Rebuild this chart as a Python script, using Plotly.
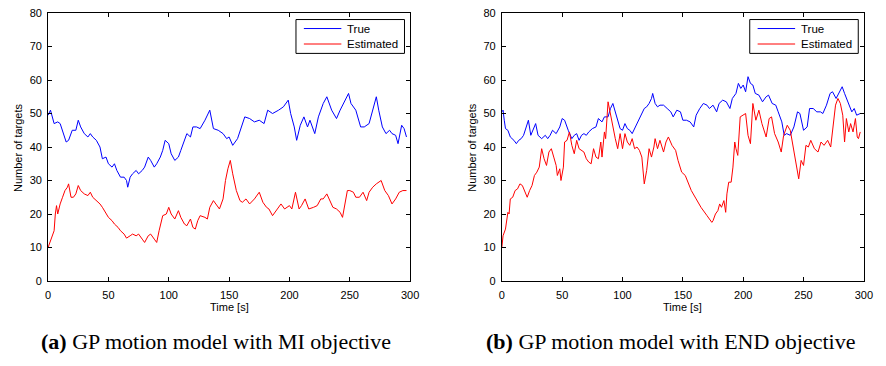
import plotly.graph_objects as go

# ---------- data ----------
a_true_t = [0,2,5,8,10,12,14,15,17,20,23,25,27,30,33,35,37,40,43,45,48,50,53,55,57,60,63,65,66,68,70,73,75,78,80,83,85,88,90,93,95,97,100,102,105,108,110,113,115,118,120,123,126,130,134,137,141,145,148,150,153,157,160,163,167,171,175,179,182,186,191,195,199,201,204,206,209,212,215,217,221,224,228,231,235,239,242,246,249,251,255,259,262,266,269,272,274,277,280,283,285,288,290,293,295,297]
a_true_v = [49.5,51,47,47.5,47,45,43,41.5,42,45,45,48,46,44,43,44,43,42,40,36.5,37,35,34,35,33,31,31,30,28,31,32,33,32,33,34,37,36,34,35,37,39,42,41,38,36,37,39,42,44,43,46,46,45.5,48,51,45.5,45,44,42.5,43,40.5,42.5,46,49,48.5,47.5,48,47,51,50,51,52,54,50,46,42,46.5,49,46,48,44,49,53,55,51,48.5,51,54,56,53,51,46,46,47,51,55,51,46,44,45,44,43.5,41,46.5,45.5,43]

a_est_t = [0,1,3,5,6,7,8,10,12,14,16,17,19,21,23,25,27,30,33,35,37,40,43,45,48,50,53,55,58,60,63,65,68,70,73,75,78,80,83,85,88,90,92,95,98,100,102,105,108,110,113,115,118,120,122,124,126,130,132,134,137,140,142,145,147,149,151,153,156,159,161,164,167,171,175,178,181,183,186,190,193,196,200,202,205,208,210,213,216,220,223,226,228,231,234,236,239,242,244,246,248,250,253,255,258,261,264,266,269,272,274,276,279,282,285,288,291,294,297]
a_est_v = [10,11,13.5,15,20,22.5,20,23,25,27,28,29,25,25,26,28.5,27,26,25.5,26.5,25,24,23,22,20,19,18,17,16,15,14,12.8,13.5,14,13.5,14,12.5,11.5,13.5,14,12.5,11.5,15,19.5,20,22,20,18.5,21,19,17,16.5,18.5,16,15.5,18,19.5,19,18.5,22,24,22.5,21.5,24.5,30,33.5,36,32,27,24,23.5,24.5,23,24.5,26.5,23.5,22,21.5,19.5,21.5,23,21.5,22.5,21.5,26.5,21.5,22.5,24.5,21.5,22,22.5,24.5,24.5,26,23.5,22,21.5,20.5,19,23.5,27,27,26.5,25,25,26.5,24,26.5,28,29,29.5,30,27,25.5,23,24.5,26.5,27,27]

b_true_t = [0,1,2,3,5,7,10,12,14,16,18,20,22,24,26,28,30,33,36,38,40,42,45,48,50,52,55,58,60,62,64,66,68,70,72,75,78,80,83,85,88,90,92,94,96,98,100,102,104,106,108,110,112,114,116,118,120,122,124,125,127,129,131,134,137,140,142,145,148,150,153,156,159,161,164,167,170,172,175,178,180,183,186,189,191,194,196,198,200,202,204,206,208,210,213,216,219,221,224,227,229,232,234,236,239,242,245,247,250,253,255,258,261,264,266,269,272,274,277,280,282,284,287,290,292,294,297]
b_true_v = [50.5,51,48,45.5,45,43,42,41,42,42.5,43.5,45.5,48,43.5,45.5,47,43.5,42.5,43.5,42.5,43.5,45,44,46,48.5,48,45,42.5,43.5,44,42,43.5,44,43.5,44.5,45.5,46,48.5,47.5,49,49,51.5,53,50.5,48,45.5,45,47,45.5,45,44,45.5,47,48.5,50,51.5,52,53,54.5,56,53,52,52.5,52.5,51.5,50.5,49,51,50.5,48,48,47.5,46,49.5,51.5,53,52.5,51.5,52.5,50.5,53,54,53.5,51.5,54.5,56,59,57.5,58.5,56.5,61,59,58.5,56,55.5,53.5,55,55.5,53,52.5,50.5,47.5,43.5,44,43.5,46,50.5,50,45,46,51.5,51.5,50.5,50.5,50,52.5,56,56.5,54.5,56.5,58,56,53,50.5,51.5,49.5,50]

b_est_t = [0,1,3,5,6,7,9,11,13,15,17,19,21,23,25,27,29,31,33,35,37,39,41,43,45,46,48,49,51,52,54,56,58,60,62,64,66,68,70,72,74,76,78,80,82,83,85,86,88,90,92,94,96,98,100,102,104,106,108,110,112,114,116,118,120,122,124,126,127,129,131,134,136,138,141,144,146,149,152,155,157,161,165,170,174,175,177,179,180.5,182,184,185.5,186.5,188,190,191.5,193,194,195.5,197.5,200,202,204,206,208,210.5,213,215.5,219,221.5,223.5,226,229,231.5,233.5,236.5,239,242,244,246,248,250,252,254,256,259,262,264.5,267,270,272.5,274.5,276.5,278.5,280.5,282.5,284,285.5,287.5,289,291,293,294.5,295.5,297]
b_est_v = [10,13.5,15.5,20.5,20,24.5,25,27,27.5,29,28.5,27,25,27,28.5,31.5,32.5,34,39.5,36.5,34.5,38.5,39.5,37,34.5,31.5,33.5,30,34,41.5,42,44.5,40.5,38,42,39.5,39,38.5,36.5,35.5,35,39.5,37,36.5,41.5,37,44.5,42.5,53.5,49.5,46,42.5,39.5,44,39.5,44,41.5,40.5,42.5,39.5,40,39,37,29,33,39.5,37,40,42.5,39.5,42,38.5,41.5,43,40.5,39,36,32.5,31.5,28.5,27,24.5,22,19.5,17.5,18,20,21,23,22,24,20.5,26,29.5,29.5,34,41.5,39.5,37.5,49,49.5,50,43.5,41,53,48,51,47,43,48.5,49,44,41.5,38.5,43.5,46.5,45,39,35,30.5,36,34.5,40.5,40,42,39.5,38.5,41.5,40.5,42,40,45.5,52.5,54.5,53,49.5,41.5,48.5,44.5,47,44.5,48.5,43,42.5,44.5]

x_ticks = [0, 50, 100, 150, 200, 250, 300]
y_ticks = [0, 10, 20, 30, 40, 50, 60, 70, 80]
series_names = ["True", "Estimated"]
captions = ["<b>(a)</b> GP motion model with MI objective",
            "<b>(b)</b> GP motion model with END objective"]

# ---------- layout geometry ----------
W, H = 886, 366
xdom_a = [45.7 / W, 412.7 / W]
xdom_b = [505.7 / W, 872.7 / W]
ydom = [1 - 284.3 / H, 1 - 7.3 / H]

BLUE = "#0000FF"
RED = "#FF0000"
COLORS = [BLUE, RED]
FONT = "Liberation Sans, Arial, sans-serif"
SERIF = "Liberation Serif, Times New Roman, serif"

fig = go.Figure()
fig.add_trace(go.Scatter(x=a_true_t, y=a_true_v, mode="lines", name=series_names[0],
                         line=dict(color=BLUE, width=1), xaxis="x", yaxis="y"))
fig.add_trace(go.Scatter(x=a_est_t, y=a_est_v, mode="lines", name=series_names[1],
                         line=dict(color=RED, width=1), xaxis="x", yaxis="y"))
fig.add_trace(go.Scatter(x=b_true_t, y=b_true_v, mode="lines", name=series_names[0],
                         line=dict(color=BLUE, width=1), xaxis="x2", yaxis="y2"))
fig.add_trace(go.Scatter(x=b_est_t, y=b_est_v, mode="lines", name=series_names[1],
                         line=dict(color=RED, width=1), xaxis="x2", yaxis="y2"))

axis_common = dict(showgrid=False, zeroline=False, showline=True, linecolor="black",
                   linewidth=1, mirror="ticks", ticks="inside", ticklen=4,
                   tickcolor="black", tickfont=dict(family=FONT, size=11, color="black"))

fig.update_layout(
    width=W, height=H, margin=dict(l=0, r=0, t=0, b=0),
    paper_bgcolor="white", plot_bgcolor="white",
    showlegend=False,
    xaxis=dict(domain=xdom_a, range=[0, 300], tickvals=x_ticks, anchor="y",
               ticklabelstandoff=4, **axis_common),
    yaxis=dict(domain=ydom, range=[0, 80], tickvals=y_ticks, anchor="x",
               ticklabelstandoff=3, **axis_common),
    xaxis2=dict(domain=xdom_b, range=[0, 300], tickvals=x_ticks, anchor="y2",
                ticklabelstandoff=4, **axis_common),
    yaxis2=dict(domain=ydom, range=[0, 80], tickvals=y_ticks, anchor="x2",
                ticklabelstandoff=3, **axis_common),
)

def px(x):
    return x / W

def py(y):
    return 1 - y / H

ann = []
shapes = []
for i, xd in enumerate((xdom_a, xdom_b)):
    xc = (xd[0] + xd[1]) / 2
    ann.append(dict(text="Time [s]", x=xc, y=py(311), xref="paper", yref="paper",
                    showarrow=False, font=dict(family=FONT, size=11, color="black"),
                    xanchor="center", yanchor="middle"))
    ann.append(dict(text="Number of targets", x=xd[0] - 30.5 / W, y=(ydom[0] + ydom[1]) / 2,
                    xref="paper", yref="paper", showarrow=False, textangle=-90,
                    font=dict(family=FONT, size=11, color="black"),
                    xanchor="center", yanchor="middle"))
    # legend box (styling only)
    off = 460 * i
    shapes.append(dict(type="rect", xref="paper", yref="paper",
                       x0=px(297 + off), x1=px(407 + off), y0=py(49), y1=py(14),
                       line=dict(color="black", width=1), fillcolor="white", layer="above"))
    for j, (name, col) in enumerate(zip(series_names, COLORS)):
        yy = 23.3 + 16 * j
        shapes.append(dict(type="line", xref="paper", yref="paper",
                           x0=px(305 + off), x1=px(343 + off), y0=py(yy), y1=py(yy),
                           line=dict(color=col, width=1), layer="above"))
        ann.append(dict(text=name, x=px(346.5 + off), y=py(yy), xref="paper", yref="paper",
                        showarrow=False, font=dict(family=FONT, size=11.5, color="black"),
                        xanchor="left", yanchor="middle"))

ann.append(dict(text=captions[0], x=px(216), y=py(347), xref="paper", yref="paper",
                showarrow=False, font=dict(family=SERIF, size=22, color="black"),
                xanchor="center", yanchor="middle"))
ann.append(dict(text=captions[1], x=px(677), y=py(347), xref="paper", yref="paper",
                showarrow=False, font=dict(family=SERIF, size=22, color="black"),
                xanchor="center", yanchor="middle"))
fig.update_layout(annotations=ann, shapes=shapes)

fig.write_html("out.html")
